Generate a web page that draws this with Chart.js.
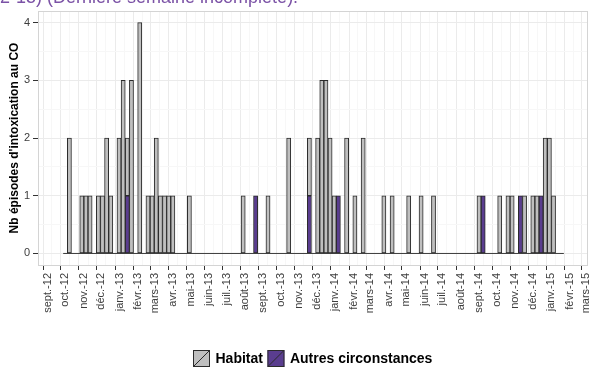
<!DOCTYPE html>
<html>
<head>
<meta charset="utf-8">
<script src="https://cdn.jsdelivr.net/npm/chart.js@4/dist/chart.umd.min.js"></script>
<style>
  html, body { margin: 0; padding: 0; background: #ffffff; }
  #wrap { width: 590px; height: 369px; position: relative; }
</style>
</head>
<body>
<div id="wrap"><canvas id="chart"></canvas></div>
<script>
// Weekly CO poisoning episodes, one value per week, weeks start on Monday 1 Oct 2012
const firstWeek = '2012-10-01';

const habitat = [
  0, 2, 0, 0, 1, 1, 1, 0, 1, 1,
  2, 1, 0, 2, 3, 1, 3, 0, 4, 0,
  1, 1, 2, 1, 1, 1, 1, 0, 0, 0,
  1, 0, 0, 0, 0, 0, 0, 0, 0, 0,
  0, 0, 0, 1, 0, 0, 0, 0, 0, 1,
  0, 0, 0, 0, 2, 0, 0, 0, 0, 1,
  0, 2, 3, 3, 2, 1, 0, 0, 2, 0,
  1, 0, 2, 0, 0, 0, 0, 1, 0, 1,
  0, 0, 0, 1, 0, 0, 1, 0, 0, 1,
  0, 0, 0, 0, 0, 0, 0, 0, 0, 0,
  1, 0, 0, 0, 0, 1, 0, 1, 1, 0,
  0, 1, 0, 1, 1, 0, 2, 2, 1, 0,
  0
];

const autres = [
  0, 0, 0, 0, 0, 0, 0, 0, 0, 0,
  0, 0, 0, 0, 0, 1, 0, 0, 0, 0,
  0, 0, 0, 0, 0, 0, 0, 0, 0, 0,
  0, 0, 0, 0, 0, 0, 0, 0, 0, 0,
  0, 0, 0, 0, 0, 0, 1, 0, 0, 0,
  0, 0, 0, 0, 0, 0, 0, 0, 0, 1,
  0, 0, 0, 0, 0, 0, 1, 0, 0, 0,
  0, 0, 0, 0, 0, 0, 0, 0, 0, 0,
  0, 0, 0, 0, 0, 0, 0, 0, 0, 0,
  0, 0, 0, 0, 0, 0, 0, 0, 0, 0,
  0, 1, 0, 0, 0, 0, 0, 0, 0, 0,
  1, 0, 0, 0, 0, 1, 0, 0, 0, 0,
  0
];

const monthLabels = [
  'sept.-12', 'oct.-12', 'nov.-12', 'déc.-12', 'janv.-13', 'févr.-13', 'mars-13',
  'avr.-13', 'mai-13', 'juin-13', 'juil.-13', 'août-13', 'sept.-13', 'oct.-13',
  'nov.-13', 'déc.-13', 'janv.-14', 'févr.-14', 'mars-14', 'avr.-14', 'mai-14',
  'juin-14', 'juil.-14', 'août-14', 'sept.-14', 'oct.-14', 'nov.-14', 'déc.-14',
  'janv.-15', 'févr.-15', 'mars-15'
];

const countTicks = [0, 1, 2, 3, 4];
const seriesNames = ['Habitat', 'Autres circonstances'];
const yTitle = "Nb épisodes d'intoxication au CO";
const headline = '2-15) (Dernière semaine incomplète).';

// ---- axis helpers: x is measured in days since 1 Sept 2012 ----
const DAY = 86400000;
const origin = Date.UTC(2012, 8, 1);
const weekStart = (Date.parse(firstWeek + 'T00:00:00Z') - origin) / DAY;
const weekX = habitat.map((_, i) => weekStart + 7 * i);
const monthTicks = monthLabels.map((_, m) => (Date.UTC(2012, 8 + m, 1) - origin) / DAY);
const monthMinor = monthTicks.slice(1).map((v, k) => (v + monthTicks[k]) / 2);
const countMinor = countTicks.slice(1).map((v, k) => (v + countTicks[k]) / 2);

const GREY = '#bfbfbf';
const PURPLE = '#5a3d8f';
const EDGE = '#2b2b2b';
const FONT = "'Liberation Sans', Arial, sans-serif";

// light panel frame around the plotting area
const panelFrame = {
  id: 'panelFrame',
  afterDraw(chart) {
    const { ctx, chartArea: a } = chart;
    ctx.save();
    ctx.strokeStyle = '#d4d4d4';
    ctx.lineWidth = 1;
    ctx.strokeRect(Math.round(a.left) + 0.5, Math.round(a.top) + 0.5,
                   Math.round(a.right - a.left) - 1, Math.round(a.bottom - a.top));
    ctx.restore();
  }
};

// headline text running off the top edge
const headlineText = {
  id: 'headlineText',
  afterDraw(chart) {
    const ctx = chart.ctx;
    ctx.save();
    ctx.fillStyle = '#7b52a6';
    ctx.font = "18px " + FONT;
    ctx.textBaseline = 'alphabetic';
    ctx.fillText(headline, 0, 3);
    ctx.restore();
  }
};

// bottom legend with slashed keys
const keyLegend = {
  id: 'keyLegend',
  afterDraw(chart) {
    const { ctx, chartArea: a } = chart;
    const items = [
      { text: seriesNames[0], fill: GREY },
      { text: seriesNames[1], fill: PURPLE }
    ];
    const sw = 17, gap = 5.5, sep = 4.5, yTop = 350;
    ctx.save();
    ctx.font = "bold 14px " + FONT;
    const widths = items.map(it => ctx.measureText(it.text).width);
    const total = items.reduce((s, it, k) => s + sw + gap + widths[k], 0) + sep * (items.length - 1);
    let x = Math.round((a.left + a.right) / 2 - total / 2);
    items.forEach((it, k) => {
      ctx.fillStyle = it.fill;
      ctx.fillRect(x, yTop, sw, sw);
      ctx.strokeStyle = EDGE;
      ctx.lineWidth = 1;
      ctx.strokeRect(x + 0.5, yTop + 0.5, sw - 1, sw - 1);
      ctx.beginPath();
      ctx.moveTo(x + 1, yTop + sw - 1);
      ctx.lineTo(x + sw - 1, yTop + 1);
      ctx.stroke();
      ctx.fillStyle = '#000';
      ctx.textBaseline = 'middle';
      ctx.fillText(it.text, x + sw + gap, yTop + sw / 2 + 0.5);
      x += sw + gap + widths[k] + sep;
    });
    ctx.restore();
  }
};

const isMonth = v => monthTicks.indexOf(v) >= 0;

new Chart(document.getElementById('chart'), {
  type: 'bar',
  data: {
    datasets: [
      {
        label: seriesNames[1],
        data: weekX.map((x, i) => ({ x, y: autres[i] })),
        backgroundColor: PURPLE,
        borderColor: EDGE,
        borderWidth: 1,
        borderSkipped: false,
        barPercentage: 1,
        categoryPercentage: 1
      },
      {
        label: seriesNames[0],
        data: weekX.map((x, i) => ({ x, y: habitat[i] })),
        backgroundColor: GREY,
        borderColor: EDGE,
        borderWidth: 1,
        borderSkipped: false,
        barPercentage: 1,
        categoryPercentage: 1
      },
      {
        // outline of the empty weeks along zero
        type: 'line',
        label: 'zero',
        stack: 'zero',
        data: [
          { x: weekX[0] - 3.5, y: 0 },
          { x: weekX[weekX.length - 1] + 3.5, y: 0 }
        ],
        borderColor: '#3a3a3a',
        borderWidth: 1,
        pointRadius: 0,
        fill: false
      }
    ]
  },
  options: {
    responsive: true,
    maintainAspectRatio: false,
    animation: false,
    devicePixelRatio: 1,
    layout: { padding: { top: 11, left: 2, right: 2.5, bottom: 24 } },
    plugins: {
      legend: { display: false },
      tooltip: { enabled: false }
    },
    scales: {
      x: {
        type: 'linear',
        min: -16.1,
        max: 913.5,
        offset: false,
        stacked: true,
        afterBuildTicks: s => {
          s.ticks = monthTicks.map(v => ({ value: v, major: true }))
            .concat(monthMinor.map(v => ({ value: v, major: false })))
            .sort((p, q) => p.value - q.value);
        },
        afterFit: s => { s.height = 80; s.paddingLeft = 0; s.paddingRight = 0; },
        ticks: {
          autoSkip: false,
          minRotation: 90,
          maxRotation: 90,
          padding: 3,
          color: '#3d3d3d',
          font: { family: FONT, size: 11 },
          callback: v => { const k = monthTicks.indexOf(v); return k >= 0 ? monthLabels[k] : ''; }
        },
        grid: {
          color: c => (c.tick && isMonth(c.tick.value)) ? '#ebebeb' : '#f7f7f7',
          tickColor: c => (c.tick && isMonth(c.tick.value)) ? '#333333' : 'rgba(0,0,0,0)',
          tickLength: 5,
          lineWidth: 1
        },
        border: { display: false }
      },
      y: {
        min: -0.2,
        max: 4.2,
        stacked: true,
        afterBuildTicks: s => {
          s.ticks = countTicks.map(v => ({ value: v }))
            .concat(countMinor.map(v => ({ value: v })))
            .sort((p, q) => p.value - q.value);
        },
        afterFit: s => { s.width = 36; },
        ticks: {
          padding: 3,
          color: '#3d3d3d',
          font: { family: FONT, size: 11 },
          callback: v => countTicks.indexOf(v) >= 0 ? String(v) : ''
        },
        grid: {
          color: c => (c.tick && countTicks.indexOf(c.tick.value) >= 0) ? '#ebebeb' : '#f7f7f7',
          tickColor: c => (c.tick && countTicks.indexOf(c.tick.value) >= 0) ? '#333333' : 'rgba(0,0,0,0)',
          tickLength: 5,
          lineWidth: 1
        },
        border: { display: false },
        title: {
          display: true,
          text: yTitle,
          color: '#000000',
          font: { family: FONT, size: 12, weight: 'bold' },
          padding: { top: 5, bottom: 0 }
        }
      }
    }
  },
  plugins: [panelFrame, headlineText, keyLegend]
});
</script>
</body>
</html>
